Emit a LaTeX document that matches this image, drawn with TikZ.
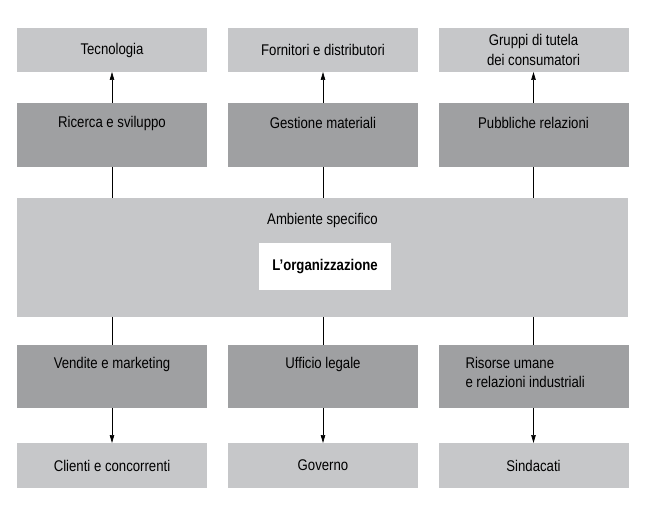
\documentclass[tikz,border=0pt]{standalone}
\usepackage{fontspec}
\setmainfont{Liberation Sans}[FakeStretch=0.85]
\usetikzlibrary{arrows.meta}
\definecolor{lightg}{HTML}{C6C7C9}
\definecolor{darkg}{HTML}{9FA0A2}
\tikzset{
  x=1pt,y=1pt,
  every node/.style={font=\fontsize{15.5}{19.5}\selectfont, inner sep=0pt, outer sep=0pt},
  outer/.style={fill=lightg, minimum width=190pt, minimum height=44pt, align=center},
  dept/.style={fill=darkg, minimum width=190pt, minimum height=64pt},
  toplab/.style={anchor=center, yshift=-20pt, align=center},
  conn/.style={line width=0.7pt},
  arr/.style={conn, -{Triangle[length=8pt,width=4.5pt]}}
}
\begin{document}
\begin{tikzpicture}
\useasboundingbox (0,0) rectangle (659,528);
% top light boxes
\node[outer] (tec) at (112,478) {Tecnologia};
\node[outer] (for) at (323,478) {Fornitori e distributori};
\node[outer] (gru) at (533.5,478) {Gruppi di tutela\\dei consumatori};
% top dark boxes
\node[dept, label={[toplab]north:Ricerca e sviluppo}] (ric) at (112,393) {};
\node[dept, label={[toplab]north:Gestione materiali}] (ges) at (323,393) {};
\node[dept, label={[toplab]north:Pubbliche relazioni}] (pub) at (533.5,393) {};
% environment
\node[fill=lightg, minimum width=611pt, minimum height=119pt,
      label={[anchor=center,yshift=-22pt]north:Ambiente specifico}] (amb) at (322.5,270.5) {};
\node[fill=white, minimum width=132pt, minimum height=47pt, font=\fontsize{15.5}{18}\selectfont\bfseries] (org) at (325,261.5) {L'organizzazione};
% bottom dark boxes
\node[dept, minimum height=63pt, label={[toplab,yshift=1pt]north:Vendite e marketing}] (ven) at (112,151.5) {};
\node[dept, minimum height=63pt, label={[toplab,yshift=1pt]north:Ufficio legale}] (uff) at (323,151.5) {};
\node[dept, minimum height=63pt, label={[anchor=north west,align=left,xshift=27pt,yshift=-12pt]north west:Risorse umane\\e relazioni industriali}] (ris) at (533.5,151.5) {};
% bottom light boxes
\node[outer, minimum height=45pt] (cli) at (112,62.5) {Clienti e concorrenti};
\node[outer, minimum height=45pt] (gov) at (323,62.5) {Governo};
\node[outer, minimum height=45pt] (sin) at (533.5,62.5) {Sindacati};
% connectors
\foreach \d/\o in {ric/tec, ges/for, pub/gru}{
  \draw[arr] (\d.north) -- (\o.south);
}
\foreach \d in {ric, ges, pub}{
  \draw[conn] (\d.south) -- (\d.south |- amb.north);
}
\foreach \d in {ven, uff, ris}{
  \draw[conn] (\d.north |- amb.south) -- (\d.north);
}
\foreach \d/\o in {ven/cli, uff/gov, ris/sin}{
  \draw[arr] (\d.south) -- (\o.north);
}
\end{tikzpicture}
\end{document}
